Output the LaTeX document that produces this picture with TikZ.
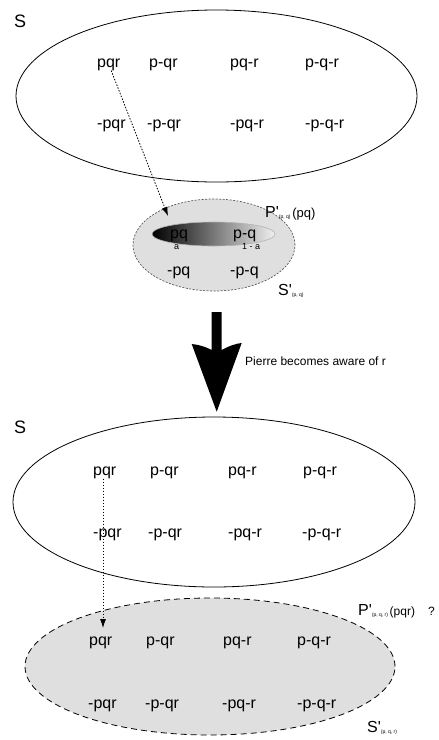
\documentclass[tikz,border=0pt]{standalone}
\usepackage{fontspec}
\setmainfont{Liberation Sans}
% family without the TeX quote mapping, so that ' stays a straight prime
\newfontfamily\lsans{Liberation Sans}
\usetikzlibrary{shapes.geometric,arrows.meta}
\newcommand\fsz[1]{\fontsize{#1}{#1}\selectfont}
\begin{document}
\begin{tikzpicture}[x=1pt,y=-1pt,
  term/.style={anchor=base west, inner sep=0pt, font=\lsans\fsz{16}},
  tiny/.style={anchor=base west, inner sep=0pt, font=\lsans\fsz{9}},
  setname/.style={anchor=base west, inner sep=0pt, font=\lsans\fsz{18}},
  caption/.style={anchor=base west, inner sep=0pt, font=\lsans\fsz{12}},
  primelabel/.style={anchor=base west, inner sep=0pt, font=\lsans},
  universe/.style={ellipse, draw, line width=0.8pt, inner sep=0pt},
  subset/.style={ellipse, inner sep=0pt, fill=gray!25},
  dotarrow/.style={line width=0.8pt, dash pattern=on 1.5pt off 1.5pt,
    -{Latex[length=9pt,width=6pt]}},
]
\useasboundingbox (0,0) rectangle (439,740);

% ---------- before: the full space S ----------
\node[setname] (S1) at (14,27) {S};
\node[universe, minimum width=401pt, minimum height=172pt] (U1) at (216.5,96) {};
\node[term] (pqr1)  at (97,67)  {pqr};
\node[term] (pnqr1) at (149,67) {p-qr};
\node[term] (pqnr1) at (230,67) {pq-r};
\node[term] (pnqnr1) at (305,67) {p-q-r};
\node[term] (npqr1)  at (97,128)  {-pqr};
\node[term] (npnqr1) at (147,128) {-p-qr};
\node[term] (npqnr1) at (230,128) {-pq-r};
\node[term] (npnqnr1) at (305,128) {-p-q-r};

% ---------- Pierre's coarse space S'(p,q) ----------
\node[subset, draw=gray!70!black, line width=0.7pt, dash pattern=on 2pt off 1.5pt,
  minimum width=162pt, minimum height=92pt] (Sp1) at (214,245) {};
\node[ellipse, inner sep=0pt, draw=gray!60, line width=0.6pt,
  left color=black, right color=gray!12,
  minimum width=123pt, minimum height=24pt] (P1) at (213.5,234) {};
\node[term] (pq)   at (170,238) {pq};
\node[term] (pnq)  at (233,238) {p-q};
\node[tiny] (wa)   at (174,249) {a};
\node[tiny] (w1a)  at (242,249) {1 - a};
\node[term] (npq)  at (167,275) {-pq};
\node[term] (npnq) at (230,275) {-p-q};
\node[primelabel] (Plab1) at (265,217)
  {{\fsz{16}P'}\raisebox{-1.5pt}{\fsz{5}(p, q)}\,{\fsz{13}(pq)}};
\node[primelabel] (Slab1) at (278,295)
  {{\fsz{16}S'}\raisebox{-1.5pt}{\fsz{5}(p, q)}};

\coordinate (t1) at (168,216);
\draw[dotarrow] (pqr1) -- (t1);

% ---------- awareness step ----------
\coordinate (atop) at (216.7,312);
\coordinate (atip) at (216.7,411.7);
\fill (211.7,312) -- (221.7,312) -- (221.7,350)
  .. controls (229,346) and (236,343.5) .. (241.7,343) -- (atip)
  -- (191.7,344) .. controls (197,344.5) and (204,346) .. (211.7,350) -- cycle;
\node[caption] (aware) at (245,365) {Pierre becomes aware of r};

% ---------- after: the full space S ----------
\node[setname] (S2) at (14,433) {S};
\node[universe, minimum width=402pt, minimum height=170pt] (U2) at (214,502) {};
\node[term] (pqr2)  at (93,475)  {pqr};
\node[term] (pnqr2) at (150,475) {p-qr};
\node[term] (pqnr2) at (228,475) {pq-r};
\node[term] (pnqnr2) at (303,475) {p-q-r};
\node[term] (npqr2)  at (93,537)  {-pqr};
\node[term] (npnqr2) at (148,537) {-p-qr};
\node[term] (npqnr2) at (228,537) {-pq-r};
\node[term] (npnqnr2) at (302,537) {-p-q-r};

% ---------- refined space S'(p,q,r) ----------
\node[subset, draw=black, line width=0.8pt, dash pattern=on 6pt off 4pt,
  minimum width=370pt, minimum height=137pt] (Sp2) at (210,666.5) {};
\node[term] (pqr3)  at (89,645)  {pqr};
\node[term] (pnqr3) at (146,645) {p-qr};
\node[term] (pqnr3) at (223,645) {pq-r};
\node[term] (pnqnr3) at (297,645) {p-q-r};
\node[term] (npqr3)  at (88,708)  {-pqr};
\node[term] (npnqr3) at (145,708) {-p-qr};
\node[term] (npqnr3) at (222,708) {-pq-r};
\node[term] (npnqnr3) at (297,708) {-p-q-r};
\node[primelabel] (Plab2) at (358,615)
  {{\fsz{16}P'}\raisebox{-1.5pt}{\fsz{5}(p, q, r)}\,{\fsz{12}(pqr)}\hspace{13pt}{\fsz{12}?}};
\node[primelabel] (Slab2) at (367,732)
  {{\fsz{16}S'}\raisebox{-1.5pt}{\fsz{5}(p, q, r)}};

\coordinate (t2) at (103,628);
\draw[dotarrow] (pqr2.south -| t2) -- (t2);
\end{tikzpicture}
\end{document}
